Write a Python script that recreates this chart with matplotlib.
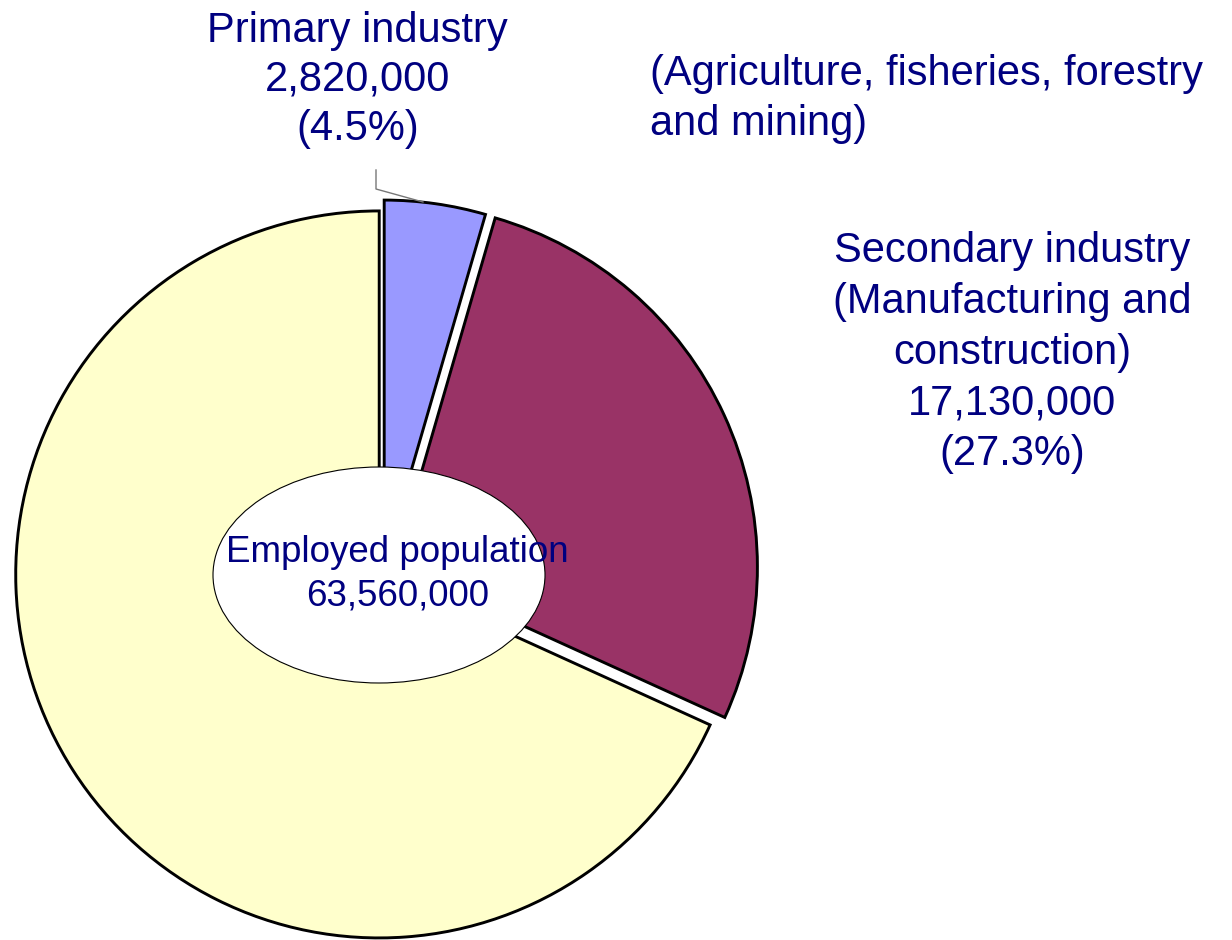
import matplotlib
matplotlib.use("Agg")
import matplotlib.pyplot as plt
from matplotlib.patches import Ellipse

# ---- data ----
categories = ["Primary industry", "Secondary industry", "Tertiary industry"]
values = [2820000, 17130000, 42800000]
total_label = "63,560,000"
primary_lines = ["Primary industry", "2,820,000", "(4.5%)"]
primary_note = ["(Agriculture, fisheries, forestry", "and mining)"]
secondary_lines = ["Secondary industry", "(Manufacturing and", "construction)",
                   "17,130,000", "(27.3%)"]
center_lines = ["Employed population", total_label]
colors = ["#9999FF", "#993366", "#FFFFCC"]

W, H = 1232, 940
TXT = "#000080"
plt.rcParams['font.family'] = ['Liberation Sans', 'DejaVu Sans']

fig = plt.figure(figsize=(W / 100, H / 100), dpi=100)
ax = fig.add_axes([0, 0, 1, 1])

def Y(y):  # image row -> data y
    return H - y

R = 363.5
ax.pie(values, colors=colors, startangle=90, counterclock=False,
       radius=R, center=(383, Y(572)), explode=[8.5, 12.0, 4.5],
       wedgeprops=dict(edgecolor="black", linewidth=2.1))

ax.add_patch(Ellipse((379, Y(575)), 332, 216, facecolor="white",
                     edgecolor="black", linewidth=0.8, zorder=5))

# leader line
ax.plot([376, 376, 423], [Y(170), Y(189), Y(202)], color="#777777",
        linewidth=1.0, zorder=6)

fs = 30
for txt, yb in zip(primary_lines, [42, 91, 140]):
    ax.text(357.5, Y(yb), txt, ha="center", va="baseline", fontsize=fs,
            color=TXT, zorder=7)
for txt, yb in zip(primary_note, [85, 135]):
    ax.text(650, Y(yb), txt, ha="left", va="baseline", fontsize=fs,
            color=TXT, zorder=7)
for txt, yb in zip(secondary_lines, [262, 313, 364, 415, 465]):
    ax.text(1012, Y(yb), txt, ha="center", va="baseline", fontsize=fs,
            color=TXT, zorder=7)
for txt, yb in zip(center_lines, [562, 606]):
    ax.text(397.5, Y(yb), txt, ha="center", va="baseline", fontsize=26.5,
            color=TXT, zorder=7)

ax.set_xlim(0, W)
ax.set_ylim(0, H)
ax.set_aspect("auto")
ax.axis("off")

fig.savefig("out.png", dpi=100, facecolor="white")
